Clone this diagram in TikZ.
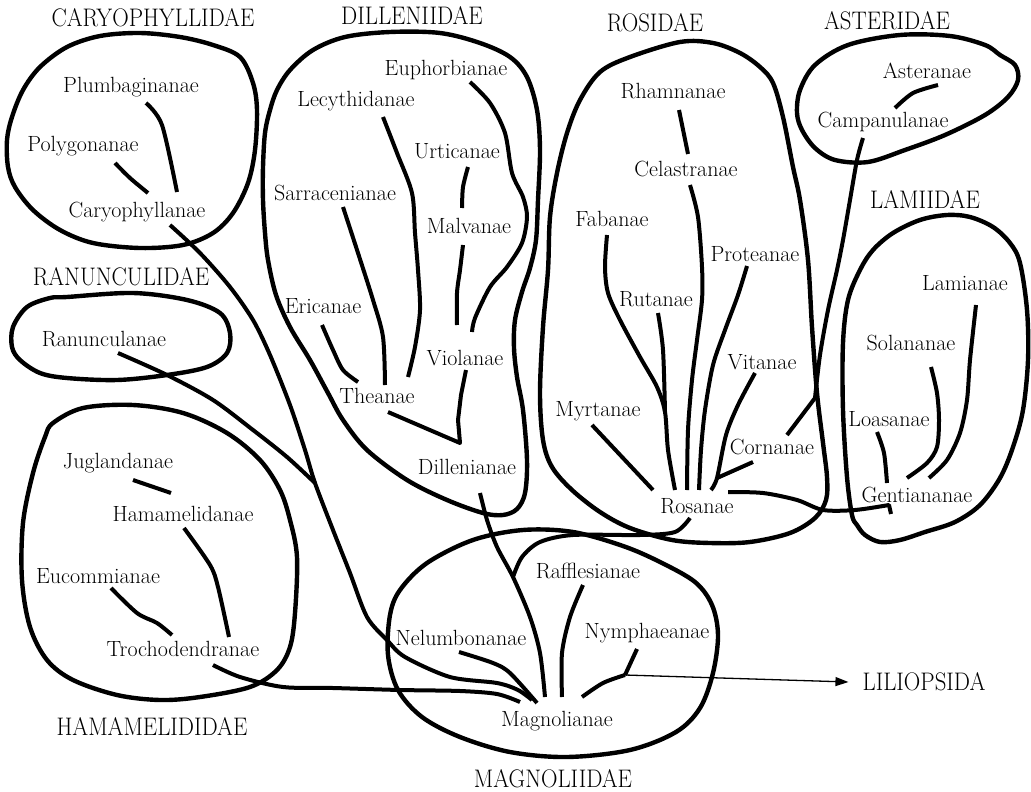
\documentclass[tikz,border=0pt]{standalone}
\usepackage{fontspec}
\usepackage{tikz}
\usetikzlibrary{arrows.meta}
\newcommand{\cladename}[1]{\scalebox{0.9}[1]{#1}}

\begin{document}
\begin{tikzpicture}[x=1pt,y=-1pt,
  taxon/.style={font=\fontsize{22}{26}\selectfont,inner sep=0pt},
  subcl/.style={font=\fontsize{25.4}{30}\selectfont,inner sep=0pt},
  br/.style={line width=4pt,line join=round},
  blob/.style={line width=4.4pt,line join=round},
  a/.style={-{Triangle[length=13pt,width=9pt]},line width=1.3pt}
]
\useasboundingbox (0,0) rectangle (1031,792);

% subclass names
\node[subcl] (caryd) at (153,18) {\cladename{CARYOPHYLLIDAE}};
\node[subcl] (dilld) at (412,16) {\cladename{DILLENIIDAE}};
\node[subcl] (rosd) at (655,23) {\cladename{ROSIDAE}};
\node[subcl] (asterd) at (887,21) {\cladename{ASTERIDAE}};
\node[subcl] (lamd) at (925,200) {\cladename{LAMIIDAE}};
\node[subcl] (ranund) at (121,277) {\cladename{RANUNCULIDAE}};
\node[subcl] (hamd) at (152,727) {\cladename{HAMAMELIDIDAE}};
\node[subcl] (magnd) at (553,779) {\cladename{MAGNOLIIDAE}};
\node[subcl] (liliopsida) at (924,682) {\cladename{LILIOPSIDA}};

% superorders
\node[taxon] (plumb) at (131,87) {Plumbaginanae};
\node[taxon] (polyg) at (83,146) {Polygonanae};
\node[taxon] (caryo) at (137,212) {Caryophyllanae};
\node[taxon] (ranunc) at (104,339) {Ranunculanae};
\node[taxon] (jugl) at (118,463) {Juglandanae};
\node[taxon] (hamam) at (183,514) {Hamamelidanae};
\node[taxon] (eucom) at (98,576) {Eucommianae};
\node[taxon] (troch) at (183,649) {Trochodendranae};
\node[taxon] (euph) at (446,70) {Euphorbianae};
\node[taxon] (lecyth) at (356,101) {Lecythidanae};
\node[taxon] (urtic) at (457,151) {Urticanae};
\node[taxon] (sarrac) at (335,193) {Sarracenianae};
\node[taxon] (malv) at (469,226) {Malvanae};
\node[taxon] (eric) at (323,306) {Ericanae};
\node[taxon] (viol) at (465,358) {Violanae};
\node[taxon] (thea) at (377,396) {Theanae};
\node[taxon] (dillen) at (467,467) {Dillenianae};
\node[taxon] (rhamn) at (673,91) {Rhamnanae};
\node[taxon] (celast) at (686,169) {Celastranae};
\node[taxon] (faba) at (612,219) {Fabanae};
\node[taxon] (prot) at (755,254) {Proteanae};
\node[taxon] (ruta) at (656,299) {Rutanae};
\node[taxon] (vita) at (762,362) {Vitanae};
\node[taxon] (myrt) at (598,411) {Myrtanae};
\node[taxon] (corn) at (772,447) {Cornanae};
\node[taxon] (rosa) at (697,506) {Rosanae};
\node[taxon] (aster) at (927,71) {Asteranae};
\node[taxon] (campan) at (883,122) {Campanulanae};
\node[taxon] (lamia) at (965,283) {Lamianae};
\node[taxon] (solan) at (911,343) {Solananae};
\node[taxon] (loas) at (889,419) {Loasanae};
\node[taxon] (gent) at (917,495) {Gentiananae};
\node[taxon] (raffl) at (588,571) {Rafflesianae};
\node[taxon] (nelumb) at (461,638) {Nelumbonanae};
\node[taxon] (nymph) at (647,633) {Nymphaeanae};
\node[taxon] (magnol) at (557,721) {Magnolianae};

% junctions
\coordinate (ranj) at (315,483);
\coordinate (dilj) at (460,443);
\coordinate (rafj) at (513,577);
\coordinate (rutj) at (665,412);
\coordinate (cornj) at (717,478);
\coordinate (nymj) at (625,675);

% subclass outlines
\draw[blob] plot[smooth cycle,tension=.55] coordinates {(213,45) (240,57) (253,83) (257,110) (255,150) (248,183) (233,213) (213,233) (183,245) (140,248) (93,243) (60,230) (33,210) (15,187) (8,167) (7,140) (12,117) (23,90) (40,67) (67,47) (100,36) (140,33) (180,37)};
\draw[blob] plot[smooth cycle,tension=.55] coordinates {(67,297) (133,293) (187,300) (220,313) (230,333) (227,353) (207,367) (167,375) (117,380) (67,378) (40,373) (20,360) (12,347) (13,327) (27,307) (50,298)};
\draw[blob] plot[smooth cycle,tension=.55] coordinates {(53,423) (83,408) (133,405) (183,413) (227,433) (260,460) (280,490) (290,520) (297,557) (295,613) (290,647) (277,670) (250,687) (200,697) (160,700) (117,695) (73,680) (47,660) (30,627) (22,580) (23,523) (33,473) (45,437)};
\draw[blob] plot[smooth cycle,tension=.55] coordinates {(345,37) (390,32) (440,33) (480,43) (510,57) (527,77) (537,110) (540,150) (538,200) (536,240) (530,268) (522,292) (515,320) (514,348) (517,377) (523,410) (527,460) (525,493) (517,509) (503,515) (483,513) (447,500) (407,480) (367,450) (343,420) (328,393) (310,360) (290,327) (276,295) (268,260) (265,233) (263,200) (263,167) (265,133) (270,110) (277,90) (290,70) (313,50)};
\draw[blob] plot[smooth cycle,tension=.55] coordinates {(680,42) (713,43) (740,53) (760,67) (773,83) (783,117) (793,167) (800,200) (808,260) (812,327) (817,393) (823,443) (827,477) (826,500) (815,518) (790,533) (750,542) (710,543) (672,540) (630,528) (600,512) (572,490) (552,467) (543,440) (540,393) (543,327) (548,270) (550,217) (557,173) (567,133) (580,100) (600,72) (630,57)};
\draw[blob] plot[smooth cycle,tension=.55] coordinates {(797,113) (800,90) (815,65) (848,45) (900,35) (950,36) (985,45) (1000,55) (1015,65) (1018,80) (1008,97) (985,115) (945,135) (905,150) (868,162) (835,160) (815,148) (802,130)};
\draw[blob] plot[smooth cycle,tension=.55] coordinates {(857,525) (865,535) (880,542) (900,540) (925,532) (955,522) (980,505) (1000,478) (1013,447) (1023,410) (1028,360) (1027,310) (1020,263) (1010,243) (993,227) (970,217) (947,215) (920,220) (893,233) (873,250) (860,270) (848,300) (843,343) (843,410) (847,477) (852,515)};
\draw[blob] plot[smooth cycle,tension=.55] coordinates {(400,590) (427,563) (473,540) (523,530) (573,532) (623,546) (660,562) (695,582) (712,605) (718,635) (713,673) (700,708) (676,732) (630,750) (567,757) (510,752) (460,737) (422,717) (398,690) (388,655) (390,615)};

% branches
\draw[br] plot[smooth,tension=.5] coordinates {([shift={(15,16)}]plumb.center) (162,125) ([shift={(40,-20)}]caryo.center)};
\draw[br] plot[smooth,tension=.5] coordinates {([shift={(32,17)}]polyg.center) (130,178) ([shift={(11,-19)}]caryo.center)};
\draw[br] plot[smooth,tension=.5] coordinates {([shift={(33,13)}]caryo.center) (200,253) (230,287) (253,320) (270,355) (290,405) (305,450) (ranj) (333,530) (350,573) (367,617) (387,640) (405,657) (450,677) (497,683) (518,690) ([shift={(-25,-21)}]magnol.center)};
\draw[br] plot[smooth,tension=.5] coordinates {([shift={(14,14)}]ranunc.center) (167,375) (213,400) (253,430) (287,457) (ranj)};
\draw[br] ([shift={(15,17)}]jugl.center) -- ([shift={(-12,-21)}]hamam.center);
\draw[br] plot[smooth,tension=.5] coordinates {([shift={(1,14)}]hamam.center) (210,565) (218,587) ([shift={(46,-12)}]troch.center)};
\draw[br] plot[smooth,tension=.5] coordinates {([shift={(13,12)}]eucom.center) (137,613) (157,623) ([shift={(-11,-14)}]troch.center)};
\draw[br] plot[smooth,tension=.5] coordinates {([shift={(30,16)}]troch.center) (240,677) (283,687) (333,688) (400,690) (460,691) (497,694) ([shift={(-37,-19)}]magnol.center)};
\draw[br] plot[smooth,tension=.5] coordinates {([shift={(24,12)}]euph.center) (490,103) (505,133) (512,173) (523,197) (527,217) (522,243) (507,267) (490,287) (475,318) ([shift={(7,-26)}]viol.center)};
\draw[br] plot[smooth,tension=.5] coordinates {([shift={(27,16)}]lecyth.center) (397,153) (412,193) (415,233) (418,270) (420,310) (415,347) ([shift={(31,-19)}]thea.center)};
\draw[br] plot[smooth,tension=.5] coordinates {([shift={(11,16)}]urtic.center) (463,187) ([shift={(-7,-18)}]malv.center)};
\draw[br] plot[smooth,tension=.5] coordinates {([shift={(-6,19)}]malv.center) (460,270) (457,293) ([shift={(-8,-33)}]viol.center)};
\draw[br] plot[smooth,tension=.5] coordinates {([shift={(8,14)}]sarrac.center) (358,253) (373,300) (383,337) ([shift={(8,-11)}]thea.center)};
\draw[br] plot[smooth,tension=.5] coordinates {([shift={(-1,19)}]eric.center) (333,350) (343,370) ([shift={(-19,-14)}]thea.center)};
\draw[br] ([shift={(11,16)}]thea.center) -- (dilj) -- (458,420) -- (461,395) -- ([shift={(1,12)}]viol.center);
\draw[br] plot[smooth,tension=.5] coordinates {([shift={(13,26)}]dillen.center) (487,520) (497,547) (rafj) (530,617) (540,653) ([shift={(-12,-24)}]magnol.center)};
\draw[br] ([shift={(6,19)}]rhamn.center) -- ([shift={(2,-15)}]celast.center);
\draw[br] plot[smooth,tension=.5] coordinates {([shift={(4,16)}]celast.center) (698,217) (702,267) (702,300) (697,340) (692,380) (688,430) ([shift={(-10,-16)}]rosa.center)};
\draw[br] plot[smooth,tension=.5] coordinates {([shift={(-5,16)}]faba.center) (605,267) (608,293) (620,320) (640,357) (657,387) (rutj) (668,450) ([shift={(-22,-16)}]rosa.center)};
\draw[br] plot[smooth,tension=.5] coordinates {([shift={(2,14)}]ruta.center) (663,350) (rutj)};
\draw[br] plot[smooth,tension=.5] coordinates {([shift={(-8,12)}]prot.center) (738,295) (725,330) (713,365) (705,410) (701,450) ([shift={(2,-16)}]rosa.center)};
\draw[br] plot[smooth,tension=.5] coordinates {([shift={(-7,11)}]vita.center) (738,405) (726,435) (cornj) ([shift={(14,-16)}]rosa.center)};
\draw[br] ([shift={(-19,15)}]corn.center) -- (cornj);
\draw[br] ([shift={(-6,14)}]myrt.center) -- ([shift={(-44,-16)}]rosa.center);
\draw[br] plot[smooth,tension=.5] coordinates {([shift={(-7,12)}]rosa.center) (675,532) (640,535) (573,535) (540,542) (522,557) (rafj)};
\draw[br] plot[smooth,tension=.5] coordinates {([shift={(31,-14)}]rosa.center) (763,493) (797,500) (823,510) (855,510) ([shift={(-28,10)}]gent.center)} -- ([shift={(-26,19)}]gent.center);
\draw[br] plot[smooth,tension=.5] coordinates {([shift={(11,14)}]aster.center) (913,93) ([shift={(12,-14)}]campan.center)};
\draw[br] plot[smooth,tension=.5] coordinates {([shift={(-20,16)}]campan.center) (857,160) (850,200) (843,240) (837,270) (828,310) (820,355) (815,398)} -- ([shift={(15,-12)}]corn.center);
\draw[br] plot[smooth,tension=.5] coordinates {([shift={(11,22)}]lamia.center) (970,360) (967,400) (960,433) (947,460) ([shift={(12,-17)}]gent.center)};
\draw[br] plot[smooth,tension=.5] coordinates {([shift={(20,24)}]solan.center) (937,393) (939,420) (937,447) (927,463) ([shift={(-10,-17)}]gent.center)};
\draw[br] plot[smooth,tension=.5] coordinates {([shift={(-12,13)}]loas.center) (884,453) ([shift={(-30,-12)}]gent.center)};
\draw[br] plot[smooth,tension=.5] coordinates {([shift={(-5,14)}]raffl.center) (570,617) (562,653) ([shift={(5,-24)}]magnol.center)};
\draw[br] plot[smooth,tension=.5] coordinates {([shift={(-2,14)}]nelumb.center) (493,663) (510,673) ([shift={(-20,-18)}]magnol.center)};
\draw[br] ([shift={(-10,16)}]nymph.center) -- (nymj);
\draw[br] plot[smooth,tension=.5] coordinates {(nymj) (603,683) ([shift={(25,-24)}]magnol.center)};
\draw[a] (nymj) -- ([xshift=-14pt]liliopsida.west);
\end{tikzpicture}
\end{document}
